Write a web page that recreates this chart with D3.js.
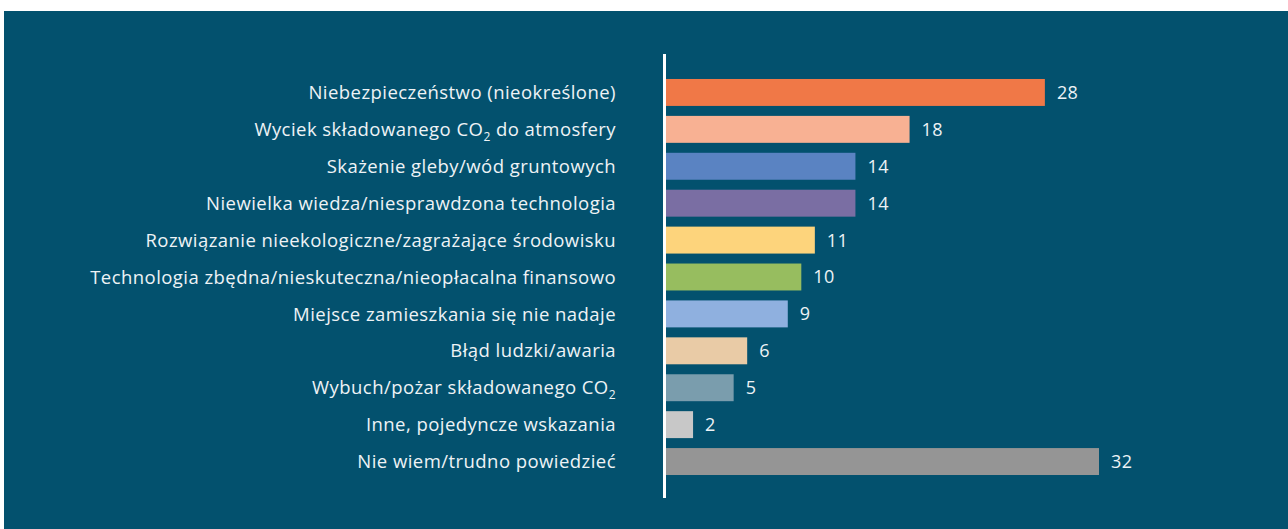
<!DOCTYPE html>
<html>
<head>
<meta charset="utf-8">
<script src="https://cdn.jsdelivr.net/npm/d3@7"></script>
<style>
  body { margin: 0; background: #ffffff; }
  svg { display: block; }
</style>
</head>
<body>
<div id="chart"></div>
<script>
// category labels, "_2" marks a subscript 2
const categories = [
    "Niebezpieczeństwo (nieokreślone)",
    "Wyciek składowanego CO_2 do atmosfery",
    "Skażenie gleby/wód gruntowych",
    "Niewielka wiedza/niesprawdzona technologia",
    "Rozwiązanie nieekologiczne/zagrażające środowisku",
    "Technologia zbędna/nieskuteczna/nieopłacalna finansowo",
    "Miejsce zamieszkania się nie nadaje",
    "Błąd ludzki/awaria",
    "Wybuch/pożar składowanego CO_2",
    "Inne, pojedyncze wskazania",
    "Nie wiem/trudno powiedzieć"
];
const values = [28, 18, 14, 14, 11, 10, 9, 6, 5, 2, 32];
const colors = ["#f07847", "#f8b193", "#5a83c2", "#7a6ea3", "#fdd47c", "#97bd5f",
                "#8fb0df", "#e9cba6", "#7a9dad", "#c8c8c8", "#959595"];

const width = 1288, height = 529;
const svg = d3.select("#chart").append("svg")
    .attr("width", width)
    .attr("height", height);

// teal panel
svg.append("rect")
    .attr("x", 4).attr("y", 11)
    .attr("width", width - 4).attr("height", height - 11)
    .attr("fill", "#03516e");

const x0 = 666;
const x = d3.scaleLinear().domain([0, 32]).range([x0, 1099]);
const y = d3.scaleBand().domain(d3.range(categories.length))
    .range([74, 480]).paddingInner(0.27).paddingOuter(0.135);

const font = "'Open Sans', sans-serif";

svg.selectAll("rect.bar")
    .data(values)
    .enter().append("rect")
    .attr("class", "bar")
    .attr("x", x0)
    .attr("y", (d, i) => y(i))
    .attr("width", d => x(d) - x0)
    .attr("height", y.bandwidth())
    .attr("fill", (d, i) => colors[i]);

svg.selectAll("text.val")
    .data(values)
    .enter().append("text")
    .attr("class", "val")
    .attr("x", d => x(d) + 12)
    .attr("y", (d, i) => y(i) + y.bandwidth() / 2)
    .attr("dy", "0.36em")
    .attr("fill", "#eef3f6")
    .style("font-family", font)
    .style("font-size", "18px")
    .style("letter-spacing", "0.4px")
    .text(d => d);

const labels = svg.selectAll("text.lab")
    .data(categories)
    .enter().append("text")
    .attr("class", "lab")
    .attr("x", 616)
    .attr("y", (d, i) => y(i) + y.bandwidth() / 2)
    .attr("dy", "0.36em")
    .attr("text-anchor", "end")
    .attr("fill", "#eef3f6")
    .style("font-family", font)
    .style("font-size", "18.5px")
    .style("letter-spacing", "0.45px");

labels.each(function(d) {
    const t = d3.select(this);
    const parts = d.split("_2");
    parts.forEach((p, j) => {
        if (j > 0) {
            t.append("tspan").attr("dy", 5).style("font-size", "12px").text("2");
            t.append("tspan").attr("dy", -5).text(p);
        } else {
            t.append("tspan").text(p);
        }
    });
});

// vertical axis line
svg.append("line")
    .attr("x1", 664.5).attr("x2", 664.5)
    .attr("y1", 54).attr("y2", 498)
    .attr("stroke", "#ffffff")
    .attr("stroke-width", 3);
</script>
</body>
</html>
